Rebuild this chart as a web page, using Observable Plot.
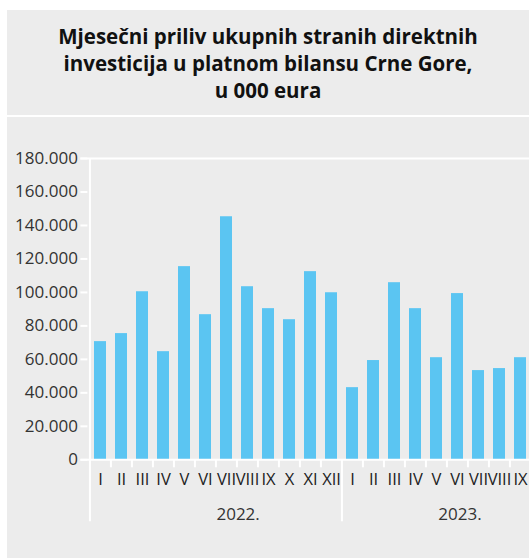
<!DOCTYPE html>
<html>
<head>
<meta charset="utf-8">
<script src="https://cdn.jsdelivr.net/npm/d3@7"></script>
<script src="https://cdn.jsdelivr.net/npm/@observablehq/plot@0.6"></script>
<style>
  html, body { margin: 0; padding: 0; background: #ffffff; width: 529px; height: 558px; overflow: hidden; }
  #title {
    position: absolute; left: 7px; top: 10px; width: 522px; height: 105px;
    background: #ececec; color: #111;
    font-family: "Open Sans", sans-serif; font-weight: 700; font-size: 20.5px;
    line-height: 27px; text-align: center; box-sizing: border-box; padding-top: 13px;
    letter-spacing: 0px;
  }
  #chart { position: absolute; left: 7px; top: 117px; width: 522px; height: 441px; background: #ececec; overflow: hidden; }
  #chart g[aria-label="x-axis tick label"] text { letter-spacing: -0.6px; }
</style>
</head>
<body>
<div id="title">Mjesečni priliv ukupnih stranih direktnih<br>investicija u platnom bilansu Crne Gore,<br>u 000 eura</div>
<div id="chart"></div>
<script>
const months2022 = ["I","II","III","IV","V","VI","VII","VIII","IX","X","XI","XII"];
const values2022 = [70600, 75400, 100400, 64600, 115400, 86700, 145200, 103400, 90300, 83700, 112400, 99800];
const months2023 = ["I","II","III","IV","V","VI","VII","VIII","IX"];
const values2023 = [43100, 59300, 105800, 90300, 61000, 99300, 53300, 54500, 61000];
const years = ["2022.", "2023."];
const yTicks = [0, 20000, 40000, 60000, 80000, 100000, 120000, 140000, 160000, 180000];

const data = [
  ...months2022.map((m, i) => ({key: "2022-" + m, month: m, value: values2022[i]})),
  ...months2023.map((m, i) => ({key: "2023-" + m, month: m, value: values2023[i]}))
];
const keys = data.map(d => d.key);

const W = 522, H = 441;
const x0 = 80.4, x1 = 524.6;
const step = (x1 - x0) / keys.length;
const blue = "#5bc5f2";
const fmt = d => d3.format(",")(d).replace(/,/g, ".");

const chart = Plot.plot({
  width: W,
  height: H,
  marginTop: 41,
  marginBottom: 98.7,
  marginLeft: 80.4,
  marginRight: 0,
  style: {fontFamily: "Open Sans, sans-serif", fontSize: "17px", background: "transparent", overflow: "visible", color: "#333"},
  x: {type: "band", domain: keys, range: [x0, x1], paddingInner: 0.433, paddingOuter: 0.2165, axis: null, label: null},
  y: {domain: [0, 180000], axis: null, label: null},
  marks: [
    Plot.barY(data, {x: "key", y: "value", fill: blue}),
    Plot.ruleY([180000, 0], {stroke: "white", strokeWidth: 2, insetLeft: -7}),
    Plot.ruleX([keys[0]], {y1: 180000, y2: 0, dx: -step / 2, stroke: "white", strokeWidth: 2, insetBottom: -62}),
    Plot.ruleX(["2023-I"], {y1: 0, y2: 0, dx: -step / 2, stroke: "white", strokeWidth: 2, insetBottom: -62}),
    Plot.ruleX(keys.slice(1).filter(k => k !== "2023-I"), {y1: 0, y2: 0, dx: -step / 2, stroke: "white", strokeWidth: 2, insetBottom: -8}),
    Plot.axisY({ticks: yTicks, tickFormat: fmt, tickSize: 7, tickPadding: 3, stroke: "white", strokeWidth: 2, fill: "#333", fontSize: 17, label: null}),
    Plot.axisX({tickFormat: k => k.split("-")[1], tickSize: 0, tickPadding: 13, fill: "#222", fontSize: 16.5, label: null, ariaLabel: "x-axis tick label"}),
    Plot.text([years[0]], {x: () => "2022-VII", y: () => 0, text: d => d, dx: step * 0.55, dy: 55, fill: "#333", fontSize: 17}),
    Plot.text([years[1]], {x: () => "2023-VI", y: () => 0, text: d => d, dx: step * 0.12, dy: 55, fill: "#333", fontSize: 17})
  ]
});
document.getElementById("chart").appendChild(chart);
</script>
</body>
</html>
